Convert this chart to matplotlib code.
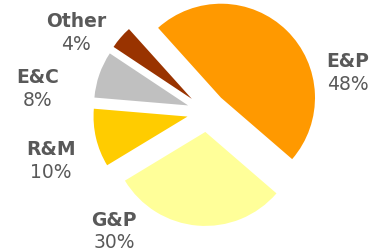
import matplotlib
matplotlib.use('Agg')
import matplotlib.pyplot as plt

# data
categories = ['E&P', 'G&P', 'R&M', 'E&C', 'Other']
shares = [48, 30, 10, 8, 4]
colors = ['#FF9900', '#FFFF99', '#FFCC00', '#C0C0C0', '#993300']

# label anchors in pixel space (x centre, name baseline from top)
label_pos = [(348, 67), (114, 226), (51, 155), (38, 83), (76, 27)]

W, H = 372, 251
R = 94
fig = plt.figure(figsize=(W / 100, H / 100), dpi=100)
ax = fig.add_axes([0, 0, 1, 1])

# explode is added in data units here, so give it in pixels
ax.pie(shares, colors=colors, center=(207, H - 113), radius=R,
       explode=[20] * len(shares), startangle=132, counterclock=False,
       wedgeprops={'linewidth': 0})

txt_color = '#595959'
for name, val, (x, y) in zip(categories, shares, label_pos):
    ax.text(x, H - y, name, ha='center', va='baseline', fontsize=13.5,
            fontweight='bold', color=txt_color, family='DejaVu Sans')
    ax.text(x, H - y - 22.5, f'{val}%', ha='center', va='baseline', fontsize=13.5,
            color=txt_color, family='DejaVu Sans')

ax.set_xlim(0, W)
ax.set_ylim(0, H)
ax.set_aspect('equal')
ax.axis('off')
fig.savefig('out.png', dpi=100)
